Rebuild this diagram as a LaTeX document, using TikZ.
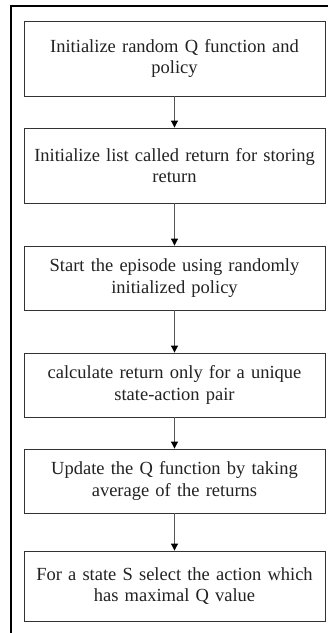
\documentclass[tikz,border=0pt]{standalone}
\usepackage{fontspec}
\setmainfont{Liberation Serif}
\usetikzlibrary{arrows.meta}
\definecolor{txt}{HTML}{222222}
\definecolor{edge}{HTML}{333333}
\definecolor{arr}{HTML}{555555}
\begin{document}
\begin{tikzpicture}[x=1pt,y=-1pt,
  stepbox/.style={draw=edge,line width=0.9pt,minimum width=301pt,text width=299pt,align=center,
    font=\fontsize{18.5}{21.7}\selectfont,text=txt,inner sep=0pt},
  flow/.style={draw=arr,line width=1pt,-{Triangle[length=7pt,width=7pt,fill=black,color=black]}}]
\useasboundingbox (0,0) rectangle (328,633);
\draw[line width=2pt,black] (11,633) -- (11,5.5) -- (328,5.5);
\node[stepbox,minimum height=75pt] (b1) at (174.5,58.5) {Initialize random Q function and\\policy};
\node[stepbox,minimum height=75pt] (b2) at (174.5,165.5) {Initialize list called return for storing\\return};
\node[stepbox,minimum height=64pt] (b3) at (174.5,278) {Start the episode using randomly\\initialized policy};
\node[stepbox,minimum height=64pt] (b4) at (174.5,385) {calculate return only for a unique\\state-action pair};
\node[stepbox,minimum height=64pt] (b5) at (174.5,481) {Update the Q function by taking\\average of the returns};
\node[stepbox,minimum height=70pt] (b6) at (174.5,586) {For a state S select the action which\\has maximal Q value};
\draw[flow] (b1) -- (b2);
\draw[flow] (b2) -- (b3);
\draw[flow] (b3) -- (b4);
\draw[flow] (b4) -- (b5);
\draw[flow] (b5) -- (b6);
\end{tikzpicture}
\end{document}
